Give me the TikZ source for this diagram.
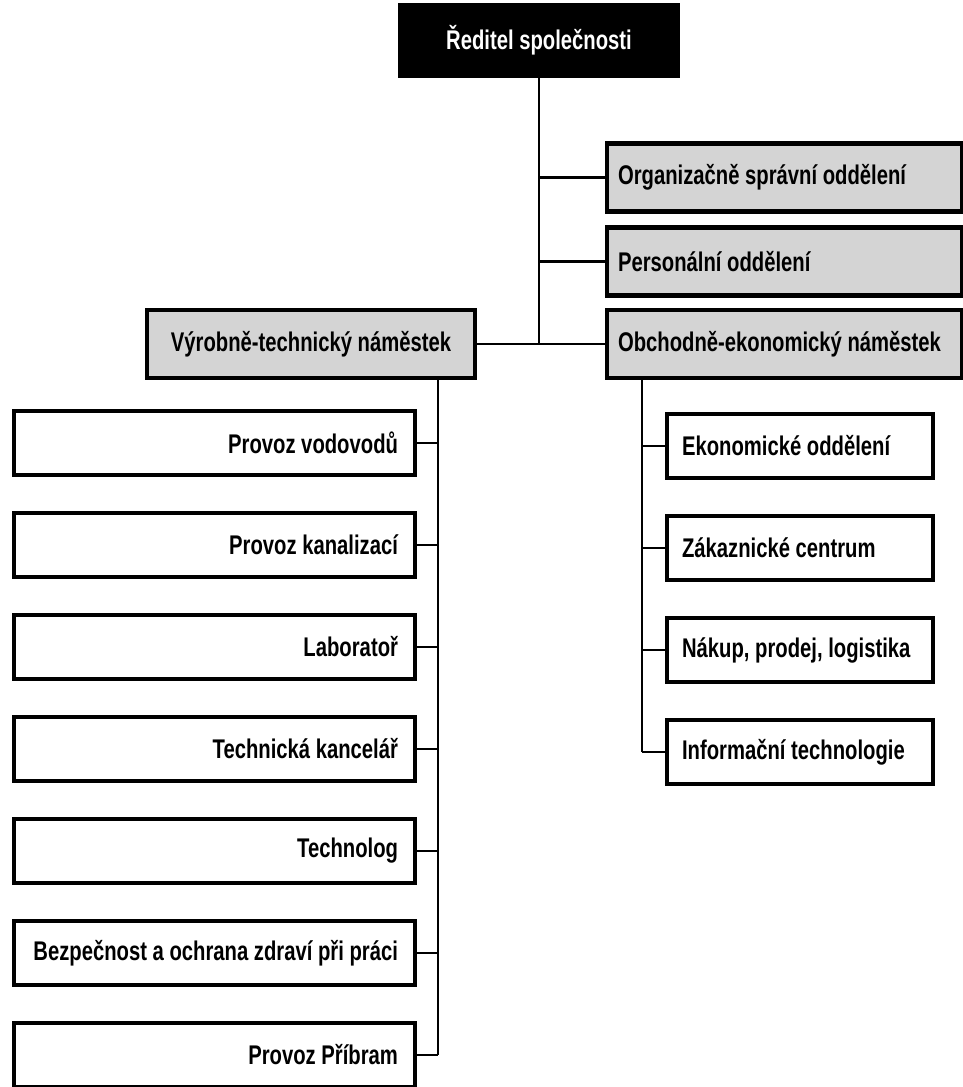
\documentclass[tikz,border=0pt]{standalone}
\usepackage{fontspec}
\setmainfont[FakeStretch=0.75]{Liberation Sans}
\usetikzlibrary{positioning}
\tikzstyle{box} = [rectangle, draw=black, line width=4.5pt, outer sep=0pt, minimum height=64pt, inner ysep=4pt, font=\fontsize{27}{30}\selectfont\bfseries]
\tikzstyle{boss} = [box, fill=black, text=white, minimum width=278pt, minimum height=71pt]
\tikzstyle{deputy} = [box, fill=black!17, minimum height=68pt]
\tikzstyle{office} = [deputy, inner xsep=11pt, text width=333pt, align=flush left]
\tikzstyle{tech} = [box, inner xsep=17pt, text width=367pt, align=flush right]
\tikzstyle{econ} = [box, inner xsep=15pt, text width=236pt, align=flush left]
\tikzstyle{conn} = [draw=black, line width=2.5pt]

\begin{document}
\begin{tikzpicture}[x=1pt, y=-1pt, node distance=38pt]
\useasboundingbox (0,0) rectangle (962,1087);

 \node (boss) [boss] at (539,40.5) {Ředitel společnosti};

 \node (org) [office] at (784.5,177.5) {Organizačně správní oddělení};
 \node (pers) [office] at (784.5,261.5) {Personální oddělení};
 \node (obch) [office] at (784.5,344) {Obchodně-ekonomický náměstek};
 \node (vyr) [deputy, inner xsep=14pt, text width=300pt, align=flush center] at (311,344) {Výrobně-technický náměstek};

 \node (lb1) [tech] at (214.5,443) {Provoz vodovodů};
 \node (lb2) [tech, below=of lb1] {Provoz kanalizací};
 \node (lb3) [tech, below=of lb2] {Laboratoř};
 \node (lb4) [tech, below=of lb3] {Technická kancelář};
 \node (lb5) [tech, below=of lb4] {Technolog};
 \node (lb6) [tech, below=of lb5] {Bezpečnost a ochrana zdraví při práci};
 \node (lb7) [tech, below=of lb6] {Provoz Příbram};

 \node (rb1) [econ] at (800,446) {Ekonomické oddělení};
 \node (rb2) [econ, below=of rb1] {Zákaznické centrum};
 \node (rb3) [econ, below=of rb2] {Nákup, prodej, logistika};
 \node (rb4) [econ, below=of rb3] {Informační technologie};

 \coordinate (ltop) at (438,377);
 \coordinate (rtop) at (642,379);

 \draw[conn] (boss.south) -- (boss.south |- obch.west);
 \draw[conn] (boss.south |- org.west) -- (org.west);
 \draw[conn] (boss.south |- pers.west) -- (pers.west);
 \draw[conn] (vyr.east) -- (obch.west);

 \draw[conn] (ltop) -- (ltop |- lb7.east);
 \foreach \i in {1,...,7}
  \draw[conn] (lb\i.east) -- (lb\i.east -| ltop);

 \draw[conn] (rtop) -- (rtop |- rb4.west);
 \foreach \i in {1,...,4}
  \draw[conn] (rb\i.west) -- (rb\i.west -| rtop);
\end{tikzpicture}
\end{document}
